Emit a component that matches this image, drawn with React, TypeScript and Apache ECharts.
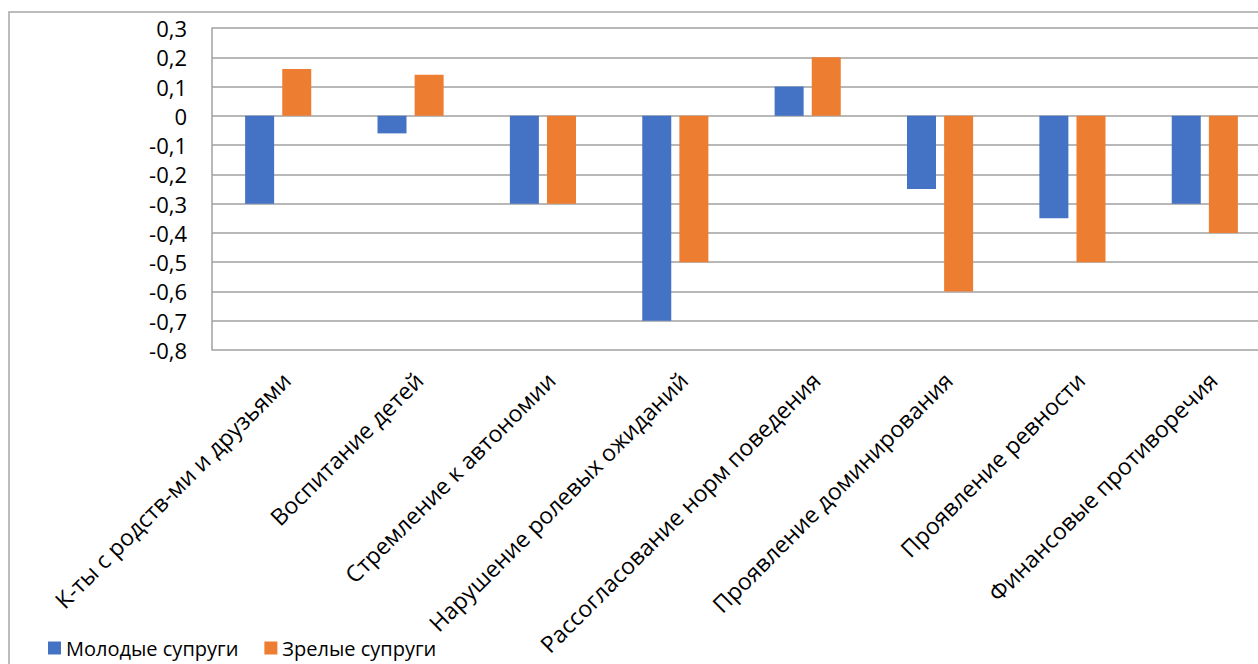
import React, { useEffect, useRef } from "react";
import * as echarts from "echarts";

const categories: string[] = [
  "К-ты с родств-ми и друзьями",
  "Воспитание детей",
  "Стремление к автономии",
  "Нарушение ролевых ожиданий",
  "Рассогласование норм поведения",
  "Проявление доминирования",
  "Проявление ревности",
  "Финансовые противоречия",
];
const seriesNames: string[] = ["Молодые супруги", "Зрелые супруги"];
const young: number[] = [-0.3, -0.06, -0.3, -0.7, 0.1, -0.25, -0.35, -0.3];
const mature: number[] = [0.16, 0.14, -0.3, -0.5, 0.2, -0.6, -0.5, -0.4];
const yMin = -0.8;
const yMax = 0.3;
const yStep = 0.1;

const FONT = "'Open Sans', 'Noto Sans', sans-serif";

export default function App() {
  const ref = useRef<HTMLDivElement>(null);
  useEffect(() => {
    document.body.style.margin = "0";
    document.body.style.overflow = "hidden";
    if (!ref.current) return;
    const chart = echarts.init(ref.current, undefined, { renderer: "svg" });
    chart.setOption({
      animation: false,
      backgroundColor: "#ffffff",
      textStyle: { fontFamily: FONT },
      graphic: [
        {
          type: "rect",
          shape: { x: 9, y: 12, width: 1400, height: 800 },
          style: { fill: "none", stroke: "#a6a6a6", lineWidth: 1.5 },
          silent: true,
          z: -1,
        },
      ],
      legend: {
        left: 43,
        top: 633,
        icon: "rect",
        itemWidth: 13,
        itemHeight: 13,
        itemGap: 26,
        textStyle: { fontSize: 20, color: "#000", fontFamily: FONT },
        data: seriesNames,
      },
      grid: {
        left: 212,
        top: 28,
        right: -13,
        bottom: 314,
        containLabel: false,
        outerBoundsMode: "none",
      },
      xAxis: {
        type: "category",
        data: categories,
        axisLine: { show: false },
        axisTick: { show: false },
        splitLine: { show: false },
        axisLabel: {
          interval: 0,
          rotate: 45,
          margin: 18,
          align: "right",
          verticalAlign: "top",
          fontSize: 23,
          color: "#000",
          fontFamily: FONT,
        },
      },
      yAxis: {
        type: "value",
        min: yMin,
        max: yMax,
        interval: yStep,
        axisLine: { show: true, lineStyle: { color: "#a0a0a0", width: 1.5 } },
        axisTick: { show: false },
        splitLine: { show: true, lineStyle: { color: "#a0a0a0", width: 1.5 } },
        axisLabel: {
          margin: 25,
          fontSize: 22,
          color: "#000",
          fontFamily: FONT,
          formatter: (v: number) => {
            const r = Math.round(v * 10) / 10;
            return r === 0 ? "0" : r.toFixed(1).replace(".", ",");
          },
        },
      },
      series: [
        {
          name: seriesNames[0],
          type: "bar",
          data: young,
          barWidth: 29,
          barGap: "28%",
          itemStyle: { color: "#4472C4" },
        },
        {
          name: seriesNames[1],
          type: "bar",
          data: mature,
          barWidth: 29,
          barGap: "28%",
          itemStyle: { color: "#ED7D31" },
        },
      ],
    });
    return () => chart.dispose();
  }, []);
  return <div ref={ref} style={{ width: 1258, height: 664 }} />;
}
